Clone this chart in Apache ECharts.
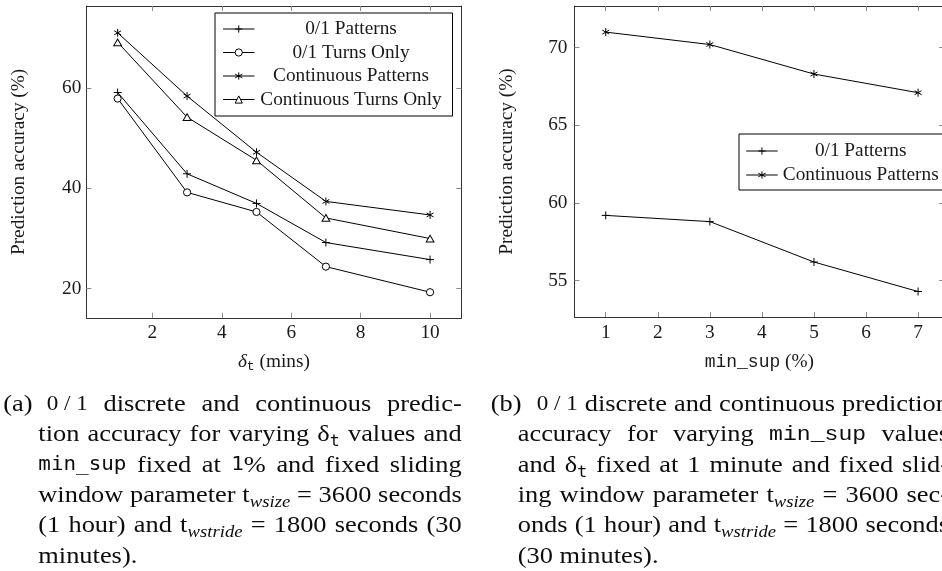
<!DOCTYPE html>
<html>
<head>
<meta charset="utf-8">
<script src="https://cdn.jsdelivr.net/npm/echarts@6/dist/echarts.min.js"></script>
<style>
html, body { margin: 0; padding: 0; background: #fff; }
#main { width: 942px; height: 571px; }
</style>
</head>
<body>
<div id="main"></div>
<script>
// (a) accuracy for varying delta_t
var deltaT = [1, 3, 5, 7, 10];
var patterns01 = [59.1, 42.9, 37.0, 29.2, 25.8];
var turns01 = [57.9, 39.2, 35.3, 24.4, 19.3];
var contPatterns = [71.0, 58.4, 47.2, 37.4, 34.7];
var contTurns = [69.1, 54.2, 45.6, 34.1, 30.0];
var deltaTicks = [2, 4, 6, 8, 10];
var accTicksA = [20, 40, 60];

// (b) accuracy for varying min_sup
var minSup = [1, 3, 5, 7];
var supPatterns01 = [59.2, 58.8, 56.2, 54.3];
var supContPatterns = [71.0, 70.2, 68.3, 67.1];
var minSupTicks = [1, 2, 3, 4, 5, 6, 7];
var accTicksB = [55, 60, 65, 70];

var namesA = ['0/1 Patterns', '0/1 Turns Only', 'Continuous Patterns', 'Continuous Turns Only'];
var namesB = ['0/1 Patterns', 'Continuous Patterns'];

// captions, one array of words per printed line
var captionA = [
    ['{o|0 / 1}', 'discrete', 'and', 'continuous', 'predic-'],
    ['tion', 'accuracy', 'for', 'varying', '{n|δ}{s|t}', 'values', 'and'],
    ['{m|min_sup}', 'fixed', 'at', '{m|1}{n|%}', 'and', 'fixed', 'sliding'],
    ['window', 'parameter', '{n|t}{w|wsize}', '=', '3600', 'seconds'],
    ['(1', 'hour)', 'and', '{n|t}{w|wstride}', '=', '1800', 'seconds', '(30'],
    ['minutes).']
];
var captionB = [
    ['{o|0 / 1}', 'discrete', 'and', 'continuous', 'prediction'],
    ['accuracy', 'for', 'varying', '{q|min_sup}', 'values'],
    ['and', '{n|δ}{s|t}', 'fixed', 'at', '1', 'minute', 'and', 'fixed', 'slid-'],
    ['ing', 'window', 'parameter', '{n|t}{w|wsize}', '=', '3600', 'sec-'],
    ['onds', '(1', 'hour)', 'and', '{n|t}{w|wstride}', '=', '1800', 'seconds'],
    ['(30', 'minutes).']
];

var SERIF = 'Liberation Serif';
var FS = 19.3;
var PLUS = 'path://M5,0L5,10M0,5L10,5';
var STAR = 'path://M5,0L5,10M0.67,2.5L9.33,7.5M0.67,7.5L9.33,2.5';
var RING = 'path://M10,5A5,5,0,1,1,0,5A5,5,0,1,1,10,5Z';
var TRI = 'path://M5,0L10,8.66L0,8.66Z';

var chart = echarts.init(document.getElementById('main'));

function pairs(xs, ys) {
    return xs.map(function (x, i) { return [x, ys[i]]; });
}

function line(name, xs, ys, symbol, size, idx) {
    var hollow = symbol === RING || symbol === TRI;
    return {
        type: 'line',
        name: name,
        xAxisIndex: idx,
        yAxisIndex: idx,
        data: pairs(xs, ys),
        symbol: symbol,
        symbolSize: size,
        symbolKeepAspect: true,
        lineStyle: { color: '#000', width: 1 },
        itemStyle: { color: hollow ? '#fff' : '#000', borderColor: '#000', borderWidth: 1 },
        emphasis: { disabled: true },
        z: 3
    };
}

function textStyle(extra) {
    return Object.assign({ fontFamily: SERIF, fontSize: FS, color: '#1a1a1a' }, extra || {});
}

function xAxes(grid, min, max, ticks, name, rich, gap) {
    var tick = { show: true, inside: true, length: 5, customValues: ticks, lineStyle: { color: '#8a8a8a', width: 1 } };
    var axisLine = { show: true, lineStyle: { color: '#333', width: 1 } };
    return [{
        type: 'value', gridIndex: grid, position: 'bottom', min: min, max: max,
        axisLine: axisLine, axisTick: tick, splitLine: { show: false },
        axisLabel: textStyle({ customValues: ticks, margin: 6 }),
        name: name, nameLocation: 'middle', nameGap: gap,
        nameTextStyle: textStyle({ rich: rich })
    }, {
        type: 'value', gridIndex: grid, position: 'top', min: min, max: max,
        axisLine: axisLine, axisTick: tick, splitLine: { show: false },
        axisLabel: { show: false }
    }];
}

function yAxes(grid, min, max, ticks, margin) {
    var tick = { show: true, inside: true, length: 5, customValues: ticks, lineStyle: { color: '#8a8a8a', width: 1 } };
    var axisLine = { show: true, lineStyle: { color: '#333', width: 1 } };
    return [{
        type: 'value', gridIndex: grid, position: 'left', min: min, max: max,
        axisLine: axisLine, axisTick: tick, splitLine: { show: false },
        axisLabel: textStyle({ customValues: ticks, margin: margin }),
        name: '{p|Prediction accuracy (%)}', nameLocation: 'middle', nameGap: 58,
        nameTextStyle: textStyle({ rich: { p: { fontFamily: SERIF, fontSize: FS, color: '#1a1a1a' } } })
    }, {
        type: 'value', gridIndex: grid, position: 'right', min: min, max: max,
        axisLine: axisLine, axisTick: tick, splitLine: { show: false },
        axisLabel: { show: false }
    }];
}

function legend(names, left, top, textWidth, padding, gap) {
    return {
        data: names, orient: 'vertical', left: left, top: top,
        padding: padding, itemGap: gap, itemWidth: 31.5, itemHeight: 9,
        borderColor: '#000', borderWidth: 1, backgroundColor: '#fff',
        selectedMode: false,
        lineStyle: { width: 1 },
        itemStyle: { borderWidth: 1 },
        formatter: function (n) { return '{c|' + n + '}'; },
        textStyle: {
            rich: { c: { width: textWidth, align: 'center', fontFamily: SERIF, fontSize: FS, lineHeight: 20, color: '#1a1a1a' } }
        }
    };
}

// ---- captions: justified lines, word by word ----
var G = 1.1; // widen glyphs a little, the original face is wider than Times
var capRich = {
    n: { fontFamily: SERIF, fontSize: 24, lineHeight: 30 },
    o: { fontFamily: SERIF, fontSize: 21, lineHeight: 30 },
    m: { fontFamily: 'DejaVu Sans Mono', fontSize: 19, lineHeight: 30 },
    q: { fontFamily: 'Liberation Mono', fontSize: 21, lineHeight: 30 },
    s: { fontFamily: 'DejaVu Sans Mono', fontSize: 15, lineHeight: 15, verticalAlign: 'bottom' },
    w: { fontFamily: SERIF, fontStyle: 'italic', fontSize: 17, lineHeight: 17, verticalAlign: 'bottom' }
};
Object.keys(capRich).forEach(function (k) { capRich[k].fill = '#0d0d0d'; });

var ctx = document.createElement('canvas').getContext('2d');
function measure(rich) {
    var w = 0, re = /\{(\w)\|([^}]*)\}/g, m;
    while ((m = re.exec(rich))) {
        var st = capRich[m[1]];
        ctx.font = (st.fontStyle || 'normal') + ' ' + st.fontSize + 'px ' + st.fontFamily;
        w += ctx.measureText(m[2]).width;
    }
    return w;
}
function toRich(word) {
    return word.indexOf('{') >= 0 ? word : '{n|' + word + '}';
}
function textEl(t, x, y) {
    return {
        type: 'text', x: x, y: y, scaleX: G, silent: true,
        style: { text: t, rich: capRich, align: 'left', verticalAlign: 'middle', fill: '#0d0d0d' }
    };
}
var capY0 = 404.5, capStep = 30.38;
function caption(label, labelX, lines, firstX, restX, rightX) {
    var els = [textEl('{n|' + label + '}', labelX, capY0)];
    var space = measure('{n| }') * G;
    lines.forEach(function (words, li) {
        var y = capY0 + li * capStep;
        var x0 = li === 0 ? firstX : restX;
        var toks = words.map(toRich);
        var widths = toks.map(function (t) { return measure(t) * G; });
        var total = widths.reduce(function (a, b) { return a + b; }, 0);
        var gap = (li < lines.length - 1 && toks.length > 1) ? (rightX - x0 - total) / (toks.length - 1) : space;
        var x = x0;
        toks.forEach(function (t, i) {
            els.push(textEl(t, x, y));
            x += widths[i] + gap;
        });
    });
    return els;
}

var option = {
    animation: false,
    backgroundColor: '#fff',
    grid: [
        { left: 86.4, top: 6, width: 374.9, height: 311.8, outerBoundsMode: 'none' },
        { left: 574.5, top: 6, width: 369.6, height: 311, outerBoundsMode: 'none' }
    ],
    xAxis: [].concat(
        xAxes(0, 0.1, 10.9, deltaTicks, '{d|δ}{s|t} (mins)', {
            d: { fontFamily: SERIF, fontStyle: 'italic', fontSize: FS, lineHeight: 22 },
            s: { fontFamily: 'Liberation Mono', fontSize: 13, lineHeight: 13, verticalAlign: 'bottom' }
        }, 33),
        xAxes(1, 0.4, 7.5, minSupTicks, '{m|min_sup} (%)', {
            m: { fontFamily: 'Liberation Mono', fontSize: 18, lineHeight: 22 }
        }, 34)
    ),
    yAxis: [].concat(
        yAxes(0, 14.2, 76.35, accTicksA, 5),
        yAxes(1, 52.66, 72.68, accTicksB, 7)
    ),
    legend: [
        legend(namesA, 215, 13, 183, [6.5, 10, 7, 7.5], 4.5),
        legend(namesB, 739, 134, 156, [7.5, 10, 5.5, 6.7], 5)
    ],
    series: [
        line(namesA[0], deltaT, patterns01, PLUS, 8, 0),
        line(namesA[1], deltaT, turns01, RING, 7.2, 0),
        line(namesA[2], deltaT, contPatterns, STAR, 8, 0),
        line(namesA[3], deltaT, contTurns, TRI, 7.8, 0),
        line(namesB[0], minSup, supPatterns01, PLUS, 8, 2),
        line(namesB[1], minSup, supContPatterns, STAR, 8, 2)
    ],
    graphic: [].concat(
        caption('(a)', 3.3, captionA, 46.7, 38.3, 461.7),
        caption('(b)', 490.7, captionB, 536.7, 517.7, 949)
    )
};
chart.setOption(option);
</script>
</body>
</html>
